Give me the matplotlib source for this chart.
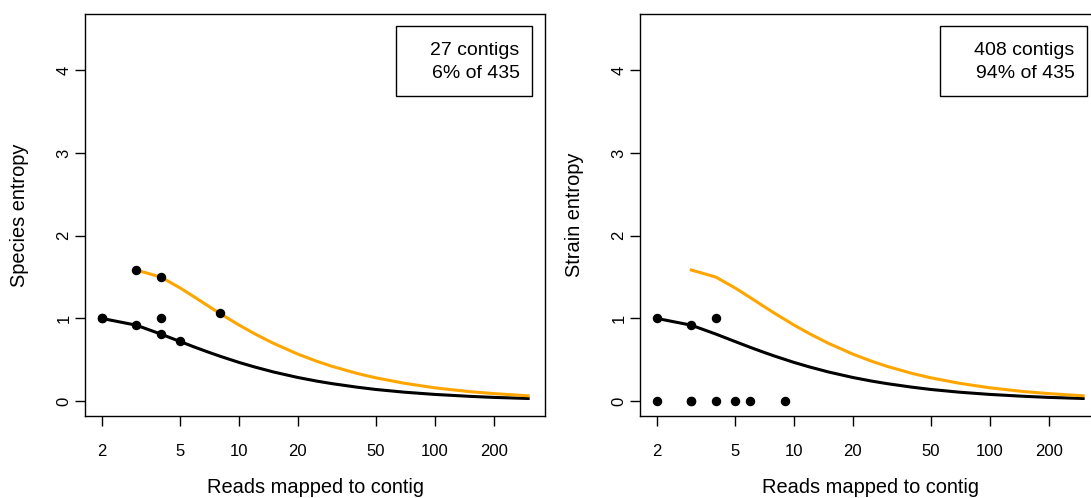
import matplotlib
matplotlib.use('Agg')
import matplotlib.pyplot as plt
from matplotlib.patches import Rectangle

plt.rcParams['font.family'] = ['Liberation Sans', 'DejaVu Sans']

# Expected-entropy curves
curve_n = [2, 3, 4, 5, 6, 7, 8, 10, 12, 15, 20, 25, 30, 40, 50, 70, 100, 150, 200, 300]
black_curve = [1.0, 0.918, 0.811, 0.722, 0.650, 0.592, 0.544, 0.469, 0.414, 0.353,
               0.286, 0.242, 0.211, 0.169, 0.141, 0.108, 0.081, 0.058, 0.045, 0.032]
orange_n = [3, 4, 5, 6, 7, 8, 10, 12, 15, 20, 25, 30, 40, 50, 70, 100, 150, 200, 300]
orange_curve = [1.585, 1.5, 1.371, 1.252, 1.149, 1.061, 0.922, 0.817, 0.700, 0.569,
                0.482, 0.420, 0.336, 0.282, 0.216, 0.161, 0.115, 0.091, 0.064]

# Observed contigs
species_reads = [2, 2, 3, 3, 4, 4, 4, 5, 8]
species_entropy = [1.0, 1.0, 1.585, 0.918, 1.5, 1.0, 0.811, 0.722, 1.061]
strain_reads = [2, 2, 3, 3, 3, 4, 4, 5, 6, 9]
strain_entropy = [1.0, 0.0, 0.918, 0.0, 0.0, 1.0, 0.0, 0.0, 0.0, 0.0]

panels = [
    ("Species entropy", species_reads, species_entropy, ["27 contigs", "6% of 435"], 0.676),
    ("Strain entropy", strain_reads, strain_entropy, ["408 contigs", "94% of 435"], 0.652),
]

x_ticks = [2, 5, 10, 20, 50, 100, 200]
y_ticks = [0, 1, 2, 3, 4]

W, H = 1091, 498
fig = plt.figure(figsize=(W / 100, H / 100), dpi=100)
lefts = [84.7, 639.7]
width_px, bottom_px, top_px = 460.6, 416, 14

for (ylabel, xs, ys, legend_lines, box_left), left in zip(panels, lefts):
    ax = fig.add_axes([left / W, 1 - bottom_px / H, width_px / W, (bottom_px - top_px) / H])
    ax.set_xscale('log')
    ax.plot(curve_n, black_curve, color='black', lw=2.2, zorder=2)
    ax.plot(orange_n, orange_curve, color='#FFA500', lw=2.2, zorder=2)
    ax.plot(xs, ys, 'o', color='black', ms=5.8, zorder=3)
    ax.set_xlim(1.637, 367)
    ax.set_ylim(-0.18, 4.68)
    ax.set_xticks(x_ticks)
    ax.set_xticklabels([str(t) for t in x_ticks])
    ax.minorticks_off()
    ax.set_yticks(y_ticks)
    ax.tick_params(axis='both', length=7.5, width=1.0, labelsize=12)
    ax.tick_params(axis='x', pad=13)
    ax.tick_params(axis='y', pad=2, labelrotation=90)
    for lab in ax.get_yticklabels():
        lab.set_va('center')
    for s in ax.spines.values():
        s.set_linewidth(1.0)
    ax.set_xlabel("Reads mapped to contig", fontsize=14.4, labelpad=13)
    ax.set_ylabel(ylabel, fontsize=14.4, labelpad=20)
    ax.add_patch(Rectangle((box_left, 0.796), 0.971 - box_left, 0.174,
                           transform=ax.transAxes, fill=False, lw=1.0, ec='black', zorder=4))
    ax.text(0.944, 0.910, legend_lines[0], transform=ax.transAxes, ha='right', va='center', fontsize=14)
    ax.text(0.944, 0.853, legend_lines[1], transform=ax.transAxes, ha='right', va='center', fontsize=14)

fig.savefig('out.png', dpi=100)
